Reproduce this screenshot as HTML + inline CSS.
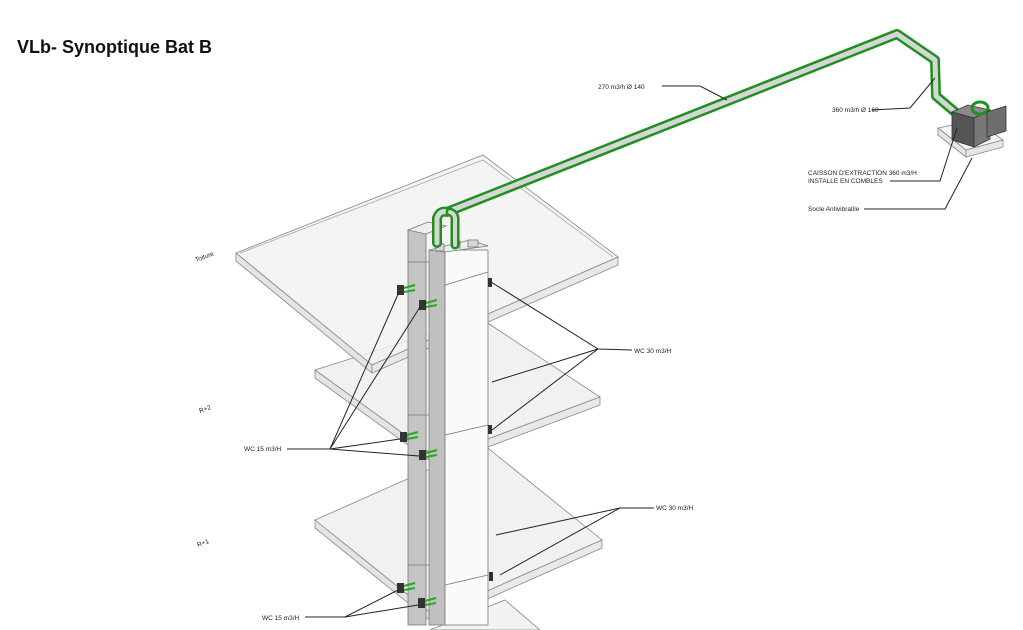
<!DOCTYPE html>
<html><head><meta charset="utf-8"><style>
html,body{margin:0;padding:0;background:#fff;}
svg{display:block;font-family:"Liberation Sans",Arial,sans-serif;}
</style></head><body>
<svg width="1023" height="630" viewBox="0 0 1023 630" xmlns="http://www.w3.org/2000/svg">
<rect width="1023" height="630" fill="#fff"/>
<text x="17" y="53" font-size="18" font-weight="bold" fill="#111">VLb- Synoptique Bat B</text>

<!-- bottom partial slab -->
<polygon points="430,630 505,600 540,630" fill="#f2f2f2" stroke="#888" stroke-width="0.8"/>

<!-- R+1 slab -->
<g stroke="#888" stroke-width="0.8">
<polygon points="315,520 484,445 602,540 433,615" fill="#f1f1f1"/>
<polygon points="315,520 433,615 433,623 315,528" fill="#e4e4e4"/>
<polygon points="433,615 602,540 602,548 433,623" fill="#e8e8e8"/>
</g>

<!-- R+2 slab -->
<g stroke="#888" stroke-width="0.8">
<polygon points="315,370 480,318 600,397 437,458" fill="#f1f1f1"/>
<polygon points="315,370 437,458 437,466 315,378" fill="#e4e4e4"/>
<polygon points="437,458 600,397 600,405 437,466" fill="#e8e8e8"/>
</g>

<!-- Roof slab -->
<g stroke="#888" stroke-width="0.8">
<polygon points="236,253 483,155 618,257 372,365" fill="#f1f1f1" fill-opacity="0.8"/>
<polyline points="240,253 483,160 613,257" fill="none" stroke="#aaa"/>
<polygon points="236,253 372,365 372,373 236,261" fill="#e4e4e4"/>
<polygon points="372,365 618,257 618,265 372,373" fill="#e8e8e8"/>
</g>

<!-- Column -->
<g stroke="#777" stroke-width="0.8">
<rect x="408" y="230" width="18" height="395" fill="#c4c4c4"/>
<polygon points="408,230 428,222 446,226 426,234" fill="#eee"/>
<rect x="429" y="250" width="16" height="375" fill="#c0c0c0"/>
<rect x="445" y="250" width="43" height="375" fill="#fafafa"/>
<polygon points="429,250 470,240 488,246 445,252" fill="#eee"/>
<rect x="436" y="244" width="8" height="7" fill="#d8d8d8"/>
<rect x="452" y="241" width="8" height="7" fill="#d8d8d8"/>
<rect x="468" y="240" width="10" height="7" fill="#d8d8d8"/>
<line x1="445" y1="285" x2="488" y2="272" />
<line x1="445" y1="435" x2="488" y2="425" />
<line x1="445" y1="585" x2="488" y2="575" />
<line x1="408" y1="262" x2="429" y2="262"/>
<line x1="408" y1="415" x2="429" y2="415"/>
<line x1="408" y1="565" x2="429" y2="565"/>
</g>

<!-- Pipe -->
<g fill="none" stroke-linecap="round" stroke-linejoin="round">
<path d="M437,243 L437,218 Q440,210 447,212 L897,34 L935,60 L936,96 L962,118" stroke="#1f8f1f" stroke-width="10"/>
<path d="M437,243 L437,218 Q440,210 447,212 L897,34 L935,60 L936,96 L962,118" stroke="#d6d6d6" stroke-width="5"/>
<path d="M455,245 L455,222 Q456,214 450,212" stroke="#1f8f1f" stroke-width="9"/>
<path d="M455,245 L455,222 Q456,214 450,212" stroke="#d6d6d6" stroke-width="4"/>
</g>

<!-- Socle -->
<polygon points="938,128 975,120 1003,140 966,150" fill="#f4f4f4" stroke="#888" stroke-width="0.8"/>
<polygon points="938,128 966,150 966,157 938,135" fill="#e6e6e6" stroke="#888" stroke-width="0.8"/>
<polygon points="966,150 1003,140 1003,147 966,157" fill="#e6e6e6" stroke="#888" stroke-width="0.8"/>
<!-- Caisson -->
<polygon points="952,112 968,105 990,110 974,118" fill="#8a8a8a" stroke="#333" stroke-width="0.8"/>
<polygon points="952,112 974,118 974,147 952,140" fill="#555" stroke="#333" stroke-width="0.8"/>
<polygon points="974,118 990,110 990,139 974,147" fill="#777" stroke="#333" stroke-width="0.8"/>
<ellipse cx="980" cy="108" rx="8" ry="6" fill="none" stroke="#1f8f1f" stroke-width="3"/>
<polygon points="987,112 1006,106 1006,131 987,137" fill="#6e6e6e" stroke="#333" stroke-width="0.8"/>

<!-- Grilles -->
<g>
<g transform="translate(401,290)"><rect x="-4" y="-5" width="7" height="10" fill="#333"/><line x1="3" y1="-2" x2="14" y2="-5" stroke="#2a2" stroke-width="2"/><line x1="3" y1="2" x2="14" y2="0" stroke="#2a2" stroke-width="2"/></g>
<g transform="translate(423,305)"><rect x="-4" y="-5" width="7" height="10" fill="#333"/><line x1="3" y1="-2" x2="14" y2="-5" stroke="#2a2" stroke-width="2"/><line x1="3" y1="2" x2="14" y2="0" stroke="#2a2" stroke-width="2"/></g>
<g transform="translate(404,437)"><rect x="-4" y="-5" width="7" height="10" fill="#333"/><line x1="3" y1="-2" x2="14" y2="-5" stroke="#2a2" stroke-width="2"/><line x1="3" y1="2" x2="14" y2="0" stroke="#2a2" stroke-width="2"/></g>
<g transform="translate(423,455)"><rect x="-4" y="-5" width="7" height="10" fill="#333"/><line x1="3" y1="-2" x2="14" y2="-5" stroke="#2a2" stroke-width="2"/><line x1="3" y1="2" x2="14" y2="0" stroke="#2a2" stroke-width="2"/></g>
<g transform="translate(401,588)"><rect x="-4" y="-5" width="7" height="10" fill="#333"/><line x1="3" y1="-2" x2="14" y2="-5" stroke="#2a2" stroke-width="2"/><line x1="3" y1="2" x2="14" y2="0" stroke="#2a2" stroke-width="2"/></g>
<g transform="translate(422,603)"><rect x="-4" y="-5" width="7" height="10" fill="#333"/><line x1="3" y1="-2" x2="14" y2="-5" stroke="#2a2" stroke-width="2"/><line x1="3" y1="2" x2="14" y2="0" stroke="#2a2" stroke-width="2"/></g>
<rect x="488" y="278" width="4" height="9" fill="#333"/>
<rect x="488" y="425" width="4" height="9" fill="#333"/>
<rect x="489" y="572" width="4" height="9" fill="#333"/>
</g>

<!-- Leaders -->
<g stroke="#222" stroke-width="1" fill="none">
<polyline points="662,86 700,86 727,100"/>
<polyline points="872,110 910,108 935,78"/>
<polyline points="890,181 940,181 957,128"/>
<polyline points="864,209 945,209 972,158"/>
<polyline points="632,350 598,349 491,282"/>
<line x1="598" y1="349" x2="492" y2="382"/>
<line x1="598" y1="349" x2="492" y2="430"/>
<polyline points="654,508 620,508 496,535"/>
<line x1="620" y1="508" x2="500" y2="575"/>
<polyline points="287,449 330,449 399,292"/>
<line x1="330" y1="449" x2="420" y2="307"/>
<line x1="330" y1="449" x2="400" y2="439"/>
<line x1="330" y1="449" x2="419" y2="456"/>
<polyline points="305,617 345,617 398,590"/>
<line x1="345" y1="617" x2="418" y2="605"/>
</g>

<g font-size="6.5" fill="#222">
<text x="598" y="89">270 m3/h Ø 140</text>
<text x="832" y="112">360 m3/h Ø 160</text>
<text x="808" y="175">CAISSON D'EXTRACTION 360 m3/H</text>
<text x="808" y="183">INSTALLE EN COMBLES</text>
<text x="808" y="211">Socle Antivibratile</text>
<text x="634" y="353">WC 30 m3/H</text>
<text x="656" y="510">WC 30 m3/H</text>
<text x="244" y="451">WC 15 m3/H</text>
<text x="262" y="620">WC 15 m3/H</text>
<text x="196" y="262" transform="rotate(-20 196 262)">Toiture</text>
<text x="200" y="413" transform="rotate(-20 200 413)">R+2</text>
<text x="198" y="547" transform="rotate(-20 198 547)">R+1</text>
</g>
</svg>
</body></html>
